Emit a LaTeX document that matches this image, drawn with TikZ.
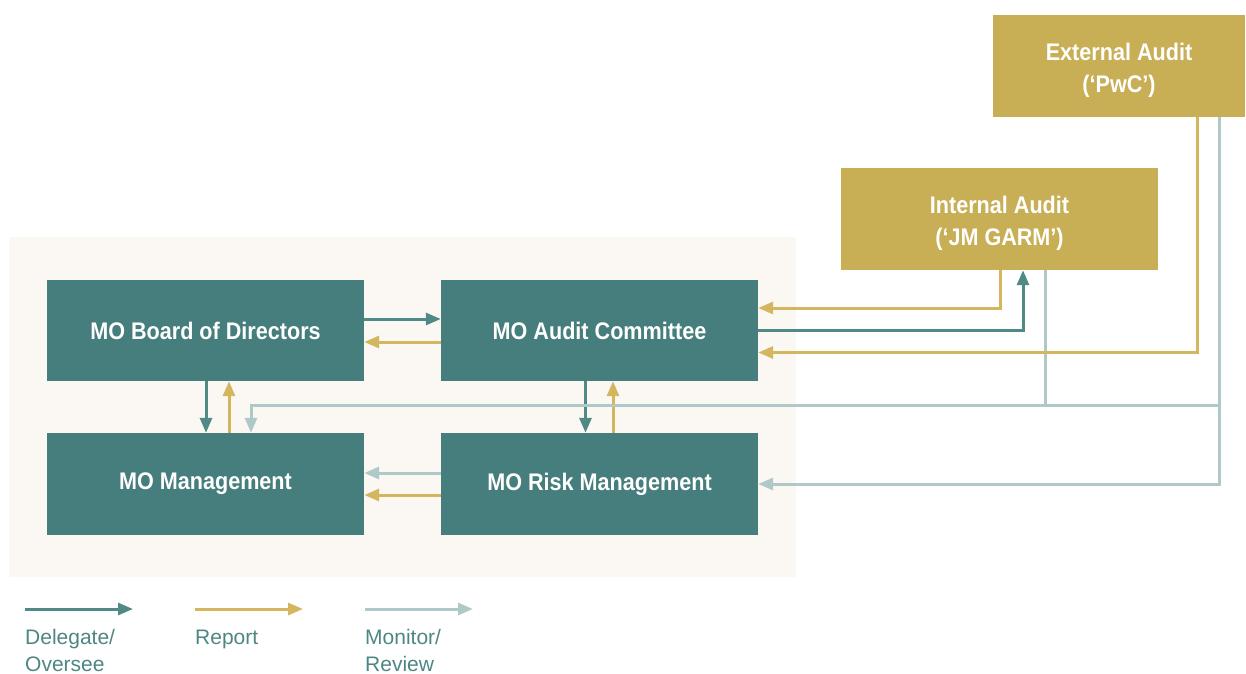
\documentclass[tikz,border=0pt]{standalone}
\usepackage{fontspec}
\setmainfont{Liberation Sans}
\newfontfamily\boxfont{Liberation Sans}[FakeStretch=0.9]
\usetikzlibrary{arrows.meta}
\definecolor{boxteal}{RGB}{69,126,124}
\definecolor{boxgold}{RGB}{200,174,85}
\definecolor{delcol}{RGB}{80,138,135}
\definecolor{repcol}{RGB}{212,182,95}
\definecolor{moncol}{RGB}{174,201,200}
\definecolor{panelcol}{RGB}{251,248,243}
\definecolor{legtext}{RGB}{78,134,131}
\newcommand{\topstrut}{\rule{0pt}{26pt}}
\tikzset{
  tbox/.style={rectangle, fill=boxteal, text=white, font=\boxfont\bfseries\fontsize{24}{32.5}\selectfont,
    align=center, minimum width=317pt, minimum height=101pt, inner sep=0pt},
  gbox/.style={tbox, fill=boxgold},
  arr/.style={line width=3pt, -{Triangle[length=15pt,width=12pt]}},
  delarr/.style={arr, draw=delcol},
  reparr/.style={arr, draw=repcol},
  monarr/.style={arr, draw=moncol},
  monline/.style={line width=3pt, draw=moncol},
  legtxt/.style={anchor=north west, inner sep=0pt, align=left, text=legtext,
    font=\fontsize{21}{26.5}\selectfont}
}
\begin{document}
\begin{tikzpicture}[x=1pt,y=-1pt]
\useasboundingbox (0,0) rectangle (1246,673);
\fill[panelcol] (9,237) rectangle (796,577);

\node[tbox] (board) at (205.5,330.5) {MO Board of Directors};
\node[tbox] (ac) at (599.5,330.5) {MO Audit Committee};
\node[tbox, minimum height=102pt] (mgmt) at (205.5,484) {MO Management};
\node[tbox, minimum height=102pt] (risk) at (599.5,484) {MO Risk Management};
\node[gbox, minimum height=102pt] (ia) at (999.5,219) {\topstrut Internal Audit\\(‘JM GARM’)};
\node[gbox, minimum height=102pt, minimum width=252pt] (ea) at (1119,66) {\topstrut External Audit\\(‘PwC’)};

% board <-> audit committee
\draw[delarr] ([yshift=11.5pt]board.east) -- ([yshift=11.5pt]ac.west);
\draw[reparr] ([yshift=-11.5pt]ac.west) -- ([yshift=-11.5pt]board.east);
% board <-> management
\draw[delarr] ([xshift=0.5pt]board.south) -- ([xshift=0.5pt]mgmt.north);
\draw[reparr] ([xshift=23.5pt]mgmt.north) -- ([xshift=23.5pt]board.south);
% audit committee <-> risk
\draw[delarr] ([xshift=-14pt]ac.south) -- ([xshift=-14pt]risk.north);
\draw[reparr] ([xshift=13.5pt]risk.north) -- ([xshift=13.5pt]ac.south);
% risk -> management
\draw[monarr] ([yshift=11pt]risk.west) -- ([yshift=11pt]mgmt.east);
\draw[reparr] ([yshift=-11pt]risk.west) -- ([yshift=-11pt]mgmt.east);

% monitor lines
\coordinate (mj) at (1219,405);
\draw[monline] ([xshift=45.5pt]ia.south) |- (mj);
\draw[monarr] ([xshift=100pt]ea.south) |- (risk.east);
\draw[monarr] (mj) -| ([xshift=45.5pt]mgmt.north);

% internal audit <-> audit committee
\draw[reparr] ([xshift=0.5pt]ia.south) |- ([yshift=22.5pt]ac.east);
\draw[delarr] ([yshift=0.5pt]ac.east) -| ([xshift=23.5pt]ia.south);
% external audit -> audit committee
\draw[reparr] ([xshift=78pt]ea.south) |- ([yshift=-22pt]ac.east);

% legend
\coordinate (l1a) at (25,609); \coordinate (l1b) at (133,609);
\coordinate (l2a) at (195,609); \coordinate (l2b) at (303,609);
\coordinate (l3a) at (365,609); \coordinate (l3b) at (473,609);
\draw[delarr] (l1a) -- (l1b);
\draw[reparr] (l2a) -- (l2b);
\draw[monarr] (l3a) -- (l3b);
\node[legtxt] (t1) at (25,629.5) {Delegate/\\Oversee};
\node[legtxt] (t2) at (195,629.5) {Report};
\node[legtxt] (t3) at (365,629.5) {Monitor/\\Review};
\end{tikzpicture}
\end{document}
